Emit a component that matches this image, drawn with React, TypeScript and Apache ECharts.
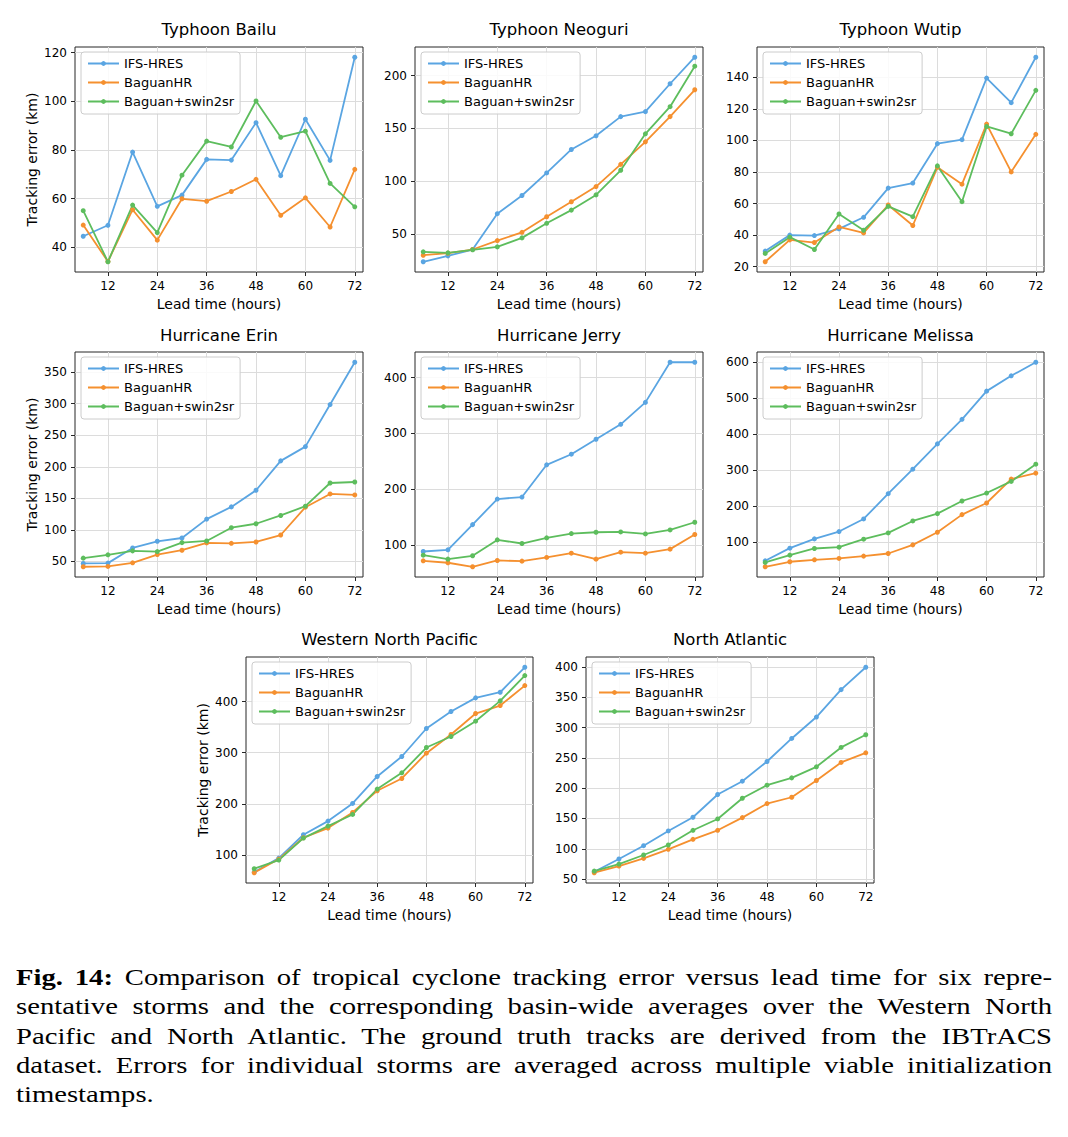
import React, { useEffect, useRef } from "react";
import * as echarts from "echarts";

// ---------- data ----------
const leadTimes = [6, 12, 18, 24, 30, 36, 42, 48, 54, 60, 66, 72];
const xTicks = [12, 24, 36, 48, 60, 72];
const seriesNames = ["IFS-HRES", "BaguanHR", "Baguan+swin2sr"];
const seriesColors = ["#5aa5e2", "#f5902f", "#5dbd5d"];

const bailuIFS = [44.5, 49.0, 79.1, 56.8, 61.4, 76.1, 75.8, 91.2, 69.4, 92.6, 75.7, 118.1];
const bailuHR = [49.1, 34.1, 55.4, 42.9, 59.9, 58.9, 62.9, 67.9, 53.1, 60.3, 48.3, 72.0];
const bailuSR = [55.0, 34.0, 57.3, 46.0, 69.6, 83.6, 81.2, 100.1, 85.2, 87.7, 66.2, 56.6];
const bailuTicks = [40, 60, 80, 100, 120];

const neoguriIFS = [23.7, 29.3, 35.3, 69.2, 86.4, 107.8, 130.0, 142.9, 161.1, 165.8, 192.2, 217.3];
const neoguriHR = [29.9, 31.8, 35.3, 43.7, 51.6, 66.3, 80.5, 94.9, 115.9, 137.2, 161.1, 186.5];
const neoguriSR = [33.1, 32.1, 35.0, 37.8, 46.3, 60.1, 72.6, 87.0, 110.3, 144.8, 170.5, 208.8];
const neoguriTicks = [50, 100, 150, 200];

const wutipIFS = [29.9, 40.0, 39.7, 44.0, 51.3, 69.8, 73.0, 98.0, 100.5, 139.6, 124.0, 152.8];
const wutipHR = [23.1, 37.0, 35.3, 45.2, 41.4, 59.1, 46.1, 83.0, 72.3, 110.4, 80.1, 103.9];
const wutipSR = [28.4, 38.7, 30.9, 53.4, 43.1, 58.2, 51.7, 83.9, 61.2, 108.9, 104.3, 131.8];
const wutipTicks = [20, 40, 60, 80, 100, 120, 140];

const erinIFS = [46.9, 47.4, 71.5, 82.0, 87.2, 117.1, 136.5, 162.8, 209.4, 232.0, 298.6, 365.7];
const erinHR = [41.6, 42.1, 47.9, 61.0, 67.8, 79.4, 78.8, 80.9, 91.9, 136.0, 157.0, 155.4];
const erinSR = [55.3, 60.5, 66.8, 65.7, 79.9, 82.5, 103.5, 109.8, 122.9, 137.6, 174.3, 175.9];
const erinTicks = [50, 100, 150, 200, 250, 300, 350];

const jerryIFS = [88.1, 91.1, 136.3, 182.1, 185.7, 243.5, 262.5, 289.3, 316.1, 355.4, 427.4, 427.4];
const jerryHR = [71.4, 67.9, 60.7, 72.0, 70.8, 77.4, 85.1, 74.4, 86.9, 85.1, 92.3, 118.5];
const jerrySR = [81.5, 74.4, 80.4, 108.9, 102.4, 112.5, 120.2, 122.6, 123.2, 119.6, 126.8, 140.5];
const jerryTicks = [100, 200, 300, 400];

const melissaIFS = [48.3, 83.4, 109.2, 129.5, 164.6, 234.7, 302.9, 373.1, 441.3, 519.7, 562.2, 600.0];
const melissaHR = [31.7, 45.6, 51.1, 54.8, 61.3, 68.6, 92.6, 127.7, 176.6, 208.9, 275.3, 291.9];
const melissaSR = [43.7, 64.0, 82.5, 86.2, 108.3, 125.8, 159.0, 179.3, 214.4, 236.5, 268.8, 316.8];
const melissaTicks = [100, 200, 300, 400, 500, 600];

const wnpIFS = [66.8, 94.2, 139.7, 166.4, 200.9, 253.6, 292.6, 347.3, 380.5, 407.2, 418.2, 467.0];
const wnpHR = [65.5, 92.2, 133.8, 152.7, 183.3, 225.6, 249.7, 299.1, 335.6, 376.6, 392.2, 431.2];
const wnpSR = [73.3, 90.2, 133.2, 156.6, 179.4, 228.9, 260.7, 310.2, 331.7, 361.6, 401.3, 450.8];
const wnpTicks = [100, 200, 300, 400];

const naIFS = [62.1, 83.1, 105.1, 129.4, 152.0, 189.5, 211.5, 244.0, 282.0, 317.3, 362.5, 399.4];
const naHR = [60.5, 71.5, 84.2, 99.1, 115.6, 130.5, 151.4, 174.6, 185.0, 212.6, 242.4, 258.3];
const naSR = [63.2, 74.8, 89.7, 106.2, 130.5, 149.2, 183.4, 204.9, 217.0, 235.2, 267.2, 288.1];
const naTicks = [50, 100, 150, 200, 250, 300, 350, 400];

const panelTitles = [
  "Typhoon Bailu",
  "Typhoon Neoguri",
  "Typhoon Wutip",
  "Hurricane Erin",
  "Hurricane Jerry",
  "Hurricane Melissa",
  "Western North Pacific",
  "North Atlantic",
];
const panelSeries = [
  [bailuIFS, bailuHR, bailuSR],
  [neoguriIFS, neoguriHR, neoguriSR],
  [wutipIFS, wutipHR, wutipSR],
  [erinIFS, erinHR, erinSR],
  [jerryIFS, jerryHR, jerrySR],
  [melissaIFS, melissaHR, melissaSR],
  [wnpIFS, wnpHR, wnpSR],
  [naIFS, naHR, naSR],
];
const panelYTicks = [bailuTicks, neoguriTicks, wutipTicks, erinTicks, jerryTicks, melissaTicks, wnpTicks, naTicks];
const showYName = [true, false, false, true, false, false, true, false];

const xLabel = "Lead time (hours)";
const yLabel = "Tracking error (km)";

const captionLines = [
  "Comparison of tropical cyclone tracking error versus lead time for six repre-",
  "sentative storms and the corresponding basin-wide averages over the Western North",
  "Pacific and North Atlantic. The ground truth tracks are derived from the IBTrACS",
  "dataset. Errors for individual storms are averaged across multiple viable initialization",
  "timestamps.",
];

// ---------- layout ----------
const layout = [
  { left: 75, top: 47, width: 288, height: 225, titleY: 29.5 },
  { left: 415, top: 47, width: 288, height: 225, titleY: 29.5 },
  { left: 757, top: 47, width: 287, height: 225, titleY: 29.5 },
  { left: 75, top: 352, width: 288, height: 225, titleY: 335 },
  { left: 415, top: 352, width: 288, height: 225, titleY: 335 },
  { left: 757, top: 352, width: 287, height: 225, titleY: 335 },
  { left: 246, top: 657, width: 287, height: 226, titleY: 639 },
  { left: 586, top: 657, width: 288, height: 226, titleY: 639 },
];

const FONT = "DejaVu Sans";
const AXIS_COLOR = "#262626";
const GRID_COLOR = "#dcdcdc";
const CAPTION_SCALE = 1.22;

function buildOption() {
  const grid: any[] = [];
  const xAxis: any[] = [];
  const yAxis: any[] = [];
  const series: any[] = [];
  const legend: any[] = [];
  const graphic: any[] = [];

  panelSeries.forEach((group, i) => {
    const L = layout[i];
    grid.push({
      left: L.left,
      top: L.top,
      width: L.width,
      height: L.height,
      show: true,
      borderColor: AXIS_COLOR,
      borderWidth: 1,
      backgroundColor: "transparent",
      containLabel: false,
    });
    const all = group.flat();
    const dMin = Math.min(...all);
    const dMax = Math.max(...all);
    const pad = (dMax - dMin) * 0.05;
    xAxis.push({
      type: "value",
      gridIndex: i,
      min: 4,
      max: 74,
      axisLine: { show: false },
      axisTick: { show: true, length: 4, inside: false, lineStyle: { color: AXIS_COLOR, width: 1 }, customValues: xTicks },
      axisLabel: { customValues: xTicks, fontSize: 12, color: "#000", margin: 8, fontFamily: FONT },
      splitLine: { show: true, lineStyle: { color: GRID_COLOR, width: 1 } },
      name: xLabel,
      nameLocation: "middle",
      nameGap: 25,
      nameTextStyle: { fontSize: 14, color: "#000", fontFamily: FONT },
    });
    yAxis.push({
      type: "value",
      gridIndex: i,
      min: dMin - pad,
      max: dMax + pad,
      axisLine: { show: false },
      axisTick: { show: true, length: 4, inside: false, lineStyle: { color: AXIS_COLOR, width: 1 }, customValues: panelYTicks[i] },
      axisLabel: { customValues: panelYTicks[i], fontSize: 12, color: "#000", margin: 8, fontFamily: FONT },
      splitLine: { show: true, lineStyle: { color: GRID_COLOR, width: 1 } },
      name: showYName[i] ? yLabel : "",
      nameLocation: "middle",
      nameGap: 36,
      nameTextStyle: { fontSize: 14, color: "#000", fontFamily: FONT },
    });
    group.forEach((vals, s) => {
      series.push({
        type: "line",
        name: seriesNames[s],
        xAxisIndex: i,
        yAxisIndex: i,
        data: leadTimes.map((t, k) => [t, vals[k]]),
        symbol: "circle",
        symbolSize: 5,
        showSymbol: true,
        lineStyle: { color: seriesColors[s], width: 1.8 },
        itemStyle: { color: seriesColors[s] },
        emphasis: { disabled: true },
      });
    });
    legend.push({
      data: seriesNames,
      orient: "vertical",
      left: L.left + 6,
      top: L.top + 5,
      itemWidth: 31,
      itemHeight: 6,
      itemGap: 6,
      padding: [5, 6, 6, 6],
      backgroundColor: "rgba(255,255,255,0.85)",
      borderColor: "#cccccc",
      borderWidth: 1,
      borderRadius: 3,
      selectedMode: false,
      textStyle: { fontSize: 13, color: "#000", fontFamily: FONT },
    });
    graphic.push({
      type: "text",
      x: L.left + L.width / 2,
      y: L.titleY,
      style: {
        text: panelTitles[i],
        align: "center",
        verticalAlign: "middle",
        fontSize: 16.5,
        fontFamily: FONT,
        fill: "#000",
      },
    });
  });

  return {
    animation: false,
    backgroundColor: "#fff",
    grid,
    xAxis,
    yAxis,
    series,
    legend,
    graphic,
  };
}

function Chart() {
  const ref = useRef<HTMLDivElement>(null);
  useEffect(() => {
    if (!ref.current) return;
    const chart = echarts.init(ref.current, undefined, { renderer: "svg" });
    chart.setOption(buildOption());
    return () => chart.dispose();
  }, []);
  return <div ref={ref} style={{ position: "absolute", left: 0, top: 0, width: 1068, height: 930 }} />;
}

export default function App() {
  return (
    <div style={{ position: "absolute", left: 0, top: 0, width: 1068, height: 1137, background: "#fff", overflow: "hidden" }}>
      <Chart />
      <div
        style={{
          position: "absolute",
          left: 16,
          top: 963,
          width: 1036 / CAPTION_SCALE,
          transform: `scaleX(${CAPTION_SCALE})`,
          transformOrigin: "0 0",
          fontFamily: "'Liberation Serif', serif",
          fontSize: 23.5,
          lineHeight: "29.3px",
          color: "#000",
        }}
      >
        {captionLines.map((line, i) => (
          <div
            key={i}
            style={{
              whiteSpace: "nowrap",
              textAlign: i < captionLines.length - 1 ? "justify" : "left",
              textAlignLast: i < captionLines.length - 1 ? "justify" : "left",
            }}
          >
            {i === 0 ? <b>Fig. 14: </b> : null}
            {line}
          </div>
        ))}
      </div>
    </div>
  );
}
